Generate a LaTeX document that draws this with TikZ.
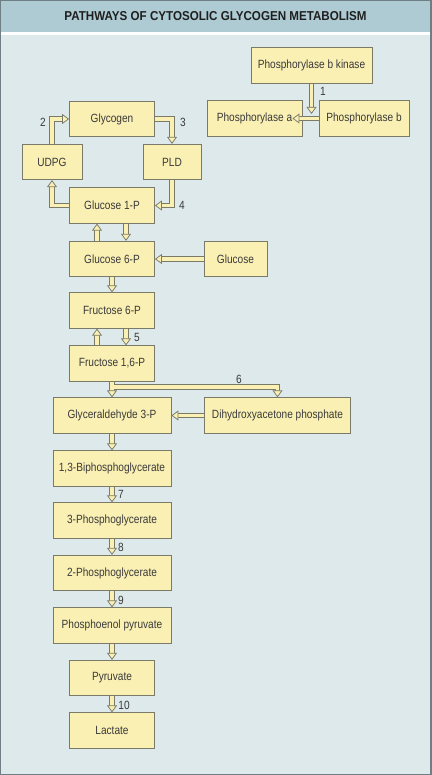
\documentclass[tikz,border=0pt]{standalone}
\usepackage{fontspec}
\setmainfont[FakeStretch=0.85]{Liberation Sans}
\newfontfamily\headfont[FakeStretch=0.9]{Liberation Sans}
\usetikzlibrary{arrows.meta,positioning}
\definecolor{headcol}{HTML}{AECBD4}
\definecolor{panelcol}{HTML}{DEE9EC}
\definecolor{boxfill}{HTML}{FAF0B4}
\definecolor{edgecol}{HTML}{7A7A68}
\definecolor{inkcol}{HTML}{3A3A3A}
\definecolor{framecol}{HTML}{6E7E84}
\tikzset{
	box/.style={draw=edgecol, fill=boxfill, line width=0.8pt, minimum height=35.5pt, inner sep=0pt, text=inkcol, font=\fontsize{11.9}{14}\selectfont},
	num/.style={draw=none, fill=none, minimum height=0pt, minimum width=0pt, inner sep=1pt},
	flowline/.style={arrows=-, draw=edgecol, line width=5.2pt, line join=miter, shorten >=6pt},
	flowfill/.style={draw=boxfill, line width=3.4pt, line join=miter, -{Triangle[length=7pt, width=10pt, color=edgecol, fill=boxfill, line width'=0.75pt]}},
	flow/.style={flowfill, preaction={flowline}}
	}

\begin{document}
\begin{tikzpicture}[x=1pt,y=-1pt]
		\path[use as bounding box] (0,0) rectangle (431,775);
		\fill[panelcol] (0,0) rectangle (431,775);
		\fill[headcol] (0,0) rectangle (431,32);
		\fill[white] (0,32) rectangle (431,35.5);
		\draw[framecol, line width=1.4pt] (0,0) rectangle (431,775);
		\tikzstyle{every node}=[box]
		
		\draw (215.5,16) node [num, text=black!88, font=\headfont\bfseries\fontsize{12.9}{15}\selectfont] (title) {PATHWAYS OF CYTOSOLIC GLYCOGEN METABOLISM};
		
		%% Phosphorylase activation
		\draw (311.5,65.5) node [minimum width=121pt] (kin) {Phosphorylase b kinase};
		\draw (254.5,118.5) node [minimum width=95pt] (pa) {Phosphorylase a};
		\draw (364,118.5) node [minimum width=90pt] (pb) {Phosphorylase b};
		\coordinate (k1) at (311.5,114);
		\draw [flow] (kin.south) -- (k1);
		\draw [flow] (pb.west) -- ([xshift=-10pt]pa.east);
		\draw (323,91) node [num] (n1) {1};
		
		%% Glycogen cycle
		\draw (112,119) node [minimum width=85pt] (glyc) {Glycogen};
		\draw (52,162) node [minimum width=60pt] (udpg) {UDPG};
		\draw (172,162) node [minimum width=58pt] (pld) {PLD};
		\draw (112,205.5) node [minimum width=85pt] (g1p) {Glucose 1-P};
		\draw [flow] (udpg.north) |- (glyc.west);
		\draw [flow] (glyc.east) -| (pld.north);
		\draw [flow] (g1p.west) -| (udpg.south);
		\draw [flow] (pld.south) |- (g1p.east);
		\draw (43,122) node [num] (n2) {2};
		\draw (183,122) node [num] (n3) {3};
		\draw (182,205) node [num] (n4) {4};
		
		%% Glucose phosphates
		\draw (112,259) node [minimum width=85pt] (g6p) {Glucose 6-P};
		\draw (235.5,259) node [minimum width=63pt] (glc) {Glucose};
		\draw [flow] ([xshift=14pt]g1p.south) -- ([xshift=14pt]g6p.north);
		\draw [flow] ([xshift=-15pt]g6p.north) -- ([xshift=-15pt]g1p.south);
		\draw [flow] (glc.west) -- (g6p.east);
		
		%% Fructose phosphates
		\draw (112,310.5) node [minimum width=85pt] (f6p) {Fructose 6-P};
		\draw (112,363.5) node [minimum width=85pt] (f16) {Fructose 1,6-P};
		\draw [flow] (g6p.south) -- (f6p.north);
		\draw [flow] ([xshift=14pt]f6p.south) -- ([xshift=14pt]f16.north);
		\draw [flow] ([xshift=-15pt]f16.north) -- ([xshift=-15pt]f6p.south);
		\draw (137,337) node [num] (n5) {5};
		
		%% Triose phosphates
		\draw (112,415.5) node [minimum width=118pt] (g3p) {Glyceraldehyde 3-P};
		\draw (277.5,415.5) node [minimum width=146pt] (dhap) {Dihydroxyacetone phosphate};
		\coordinate (split) at (112,387);
		\draw [flowline] (f16.south) -- (g3p.north);
		\draw [flowline] (split) -| (dhap.north);
		\draw [flowfill] (f16.south) -- (g3p.north);
		\draw [flowfill] (split) -| (dhap.north);
		\draw [flow] (dhap.west) -- (g3p.east);
		\draw (239,379) node [num] (n6) {6};
		
		%% Glycolysis
		\draw (112,468.5) node [minimum width=118pt] (bpg) {1,3-Biphosphoglycerate};
		\draw (112,520.5) node [minimum width=118pt] (pg3) {3-Phosphoglycerate};
		\draw (112,573) node [minimum width=118pt] (pg2) {2-Phosphoglycerate};
		\draw (112,625.5) node [minimum width=118pt] (pep) {Phosphoenol pyruvate};
		\draw (112,678) node [minimum width=85pt] (pyr) {Pyruvate};
		\draw (112,730.5) node [minimum width=85pt] (lac) {Lactate};
		\draw [flow] (g3p.south) -- (bpg.north);
		\draw [flow] (bpg.south) -- (pg3.north);
		\draw [flow] (pg3.south) -- (pg2.north);
		\draw [flow] (pg2.south) -- (pep.north);
		\draw [flow] (pep.south) -- (pyr.north);
		\draw [flow] (pyr.south) -- (lac.north);
		\draw (121,494) node [num] (n7) {7};
		\draw (121,547) node [num] (n8) {8};
		\draw (121,600) node [num] (n9) {9};
		\draw (124,705) node [num] (n10) {10};
		
	\end{tikzpicture}
\end{document}
